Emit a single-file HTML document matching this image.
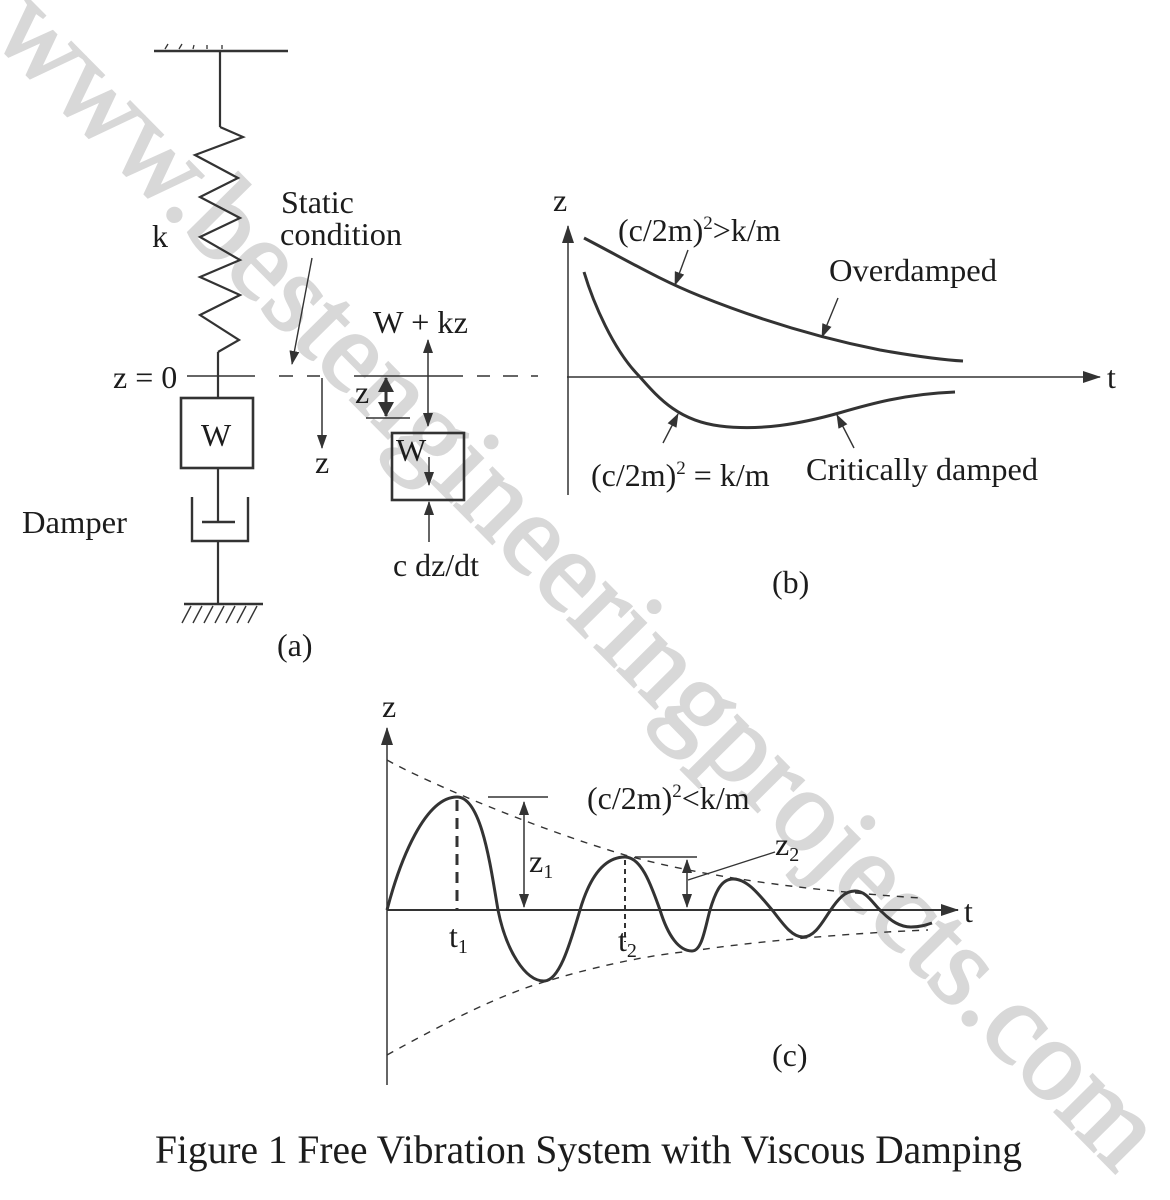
<!DOCTYPE html>
<html><head><meta charset="utf-8"><style>
html,body{margin:0;padding:0;background:#fff;}
svg{display:block;}
text{font-family:"Liberation Serif","Times New Roman",serif;fill:#1c1c1c;}
</style></head><body>
<svg width="1170" height="1200" viewBox="0 0 1170 1200" xmlns="http://www.w3.org/2000/svg">
<defs>
<marker id="a" markerUnits="userSpaceOnUse" markerWidth="14" markerHeight="10" refX="13" refY="5" orient="auto-start-reverse"><path d="M0,0 L14,5 L0,10 z" fill="#333"/></marker>
<marker id="ax" markerUnits="userSpaceOnUse" markerWidth="18" markerHeight="12" refX="17" refY="6" orient="auto-start-reverse"><path d="M0,0 L18,6 L0,12 z" fill="#333"/></marker>
<marker id="b" markerUnits="userSpaceOnUse" markerWidth="16" markerHeight="16" refX="14" refY="8" orient="auto-start-reverse"><path d="M0,0 L15,8 L0,16 z" fill="#333"/></marker>
</defs>

<!-- watermark -->
<text transform="translate(-11,35) rotate(45.3)" font-size="116" style="fill:#d8d8d8;stroke:#d8d8d8;stroke-width:2.5">www.bestengineeringprojects.com</text>

<g stroke="#333" fill="none" stroke-width="2.2">
<!-- (a) spring-mass-damper -->
<line x1="154" y1="51" x2="288" y2="51" stroke-width="2.5"/>
<g stroke-width="1.3"><line x1="165" y1="49" x2="168" y2="44"/><line x1="179" y1="49" x2="182" y2="44"/><line x1="193" y1="49" x2="194" y2="45"/><line x1="207" y1="49" x2="207" y2="45"/><line x1="222" y1="49" x2="222" y2="45"/></g>
<line x1="220" y1="51" x2="220" y2="127"/>
<polyline points="220,127 243,137 195,155 238,178 200,197 240,218 200,237 240,260 200,277 240,295 200,315 239,340 218,352"/>
<line x1="218" y1="352" x2="218" y2="398"/>
<rect x="181" y="398" width="72" height="70" stroke-width="2.6"/>
<line x1="218" y1="468" x2="218" y2="522"/>
<line x1="202" y1="522" x2="235" y2="522" stroke-width="2.6"/>
<path d="M192,497 L192,541 L248,541 L248,497" stroke-width="2.4"/>
<line x1="218" y1="541" x2="218" y2="604"/>
<line x1="184" y1="604" x2="263" y2="604" stroke-width="2.6"/>
<g stroke-width="1.4"><line x1="191" y1="606" x2="182" y2="623"/><line x1="202" y1="606" x2="193" y2="623"/><line x1="213" y1="606" x2="204" y2="623"/><line x1="224" y1="606" x2="215" y2="623"/><line x1="235" y1="606" x2="226" y2="623"/><line x1="246" y1="606" x2="237" y2="623"/><line x1="257" y1="606" x2="248" y2="623"/></g>

<!-- z=0 dashed line -->
<g stroke-width="1.5">
<line x1="187" y1="376" x2="255" y2="376"/>
<line x1="279" y1="376" x2="293" y2="376"/>
<line x1="307" y1="376" x2="320" y2="376"/>
<line x1="354" y1="376" x2="463" y2="376"/>
<line x1="477" y1="376" x2="490" y2="376"/>
<line x1="503" y1="376" x2="518" y2="376"/>
<line x1="531" y1="376" x2="538" y2="376"/>
</g>
<line x1="312" y1="258" x2="292" y2="364" stroke-width="1.4" marker-end="url(#a)"/>
<line x1="322" y1="378" x2="322" y2="448" stroke-width="1.5" marker-end="url(#a)"/>

<!-- FBD -->
<line x1="428" y1="340" x2="428" y2="426" stroke-width="1.5" marker-start="url(#a)" marker-end="url(#a)"/>
<line x1="386" y1="378" x2="386" y2="416" stroke-width="3" marker-start="url(#b)" marker-end="url(#b)"/>
<line x1="366" y1="418" x2="410" y2="418" stroke-width="1.5"/>
<rect x="392" y="433" width="72" height="67" stroke-width="2.6"/>
<line x1="429" y1="457" x2="429" y2="485" stroke-width="1.5" marker-end="url(#a)"/>
<line x1="429" y1="542" x2="429" y2="502" stroke-width="1.5" marker-end="url(#a)"/>

<!-- (b) -->
<line x1="568" y1="495" x2="568" y2="226" stroke-width="1.5" marker-end="url(#ax)"/>
<line x1="567" y1="377" x2="1100" y2="377" stroke-width="1.5" marker-end="url(#ax)"/>
<path d="M584,238 C630,262 660,280 700,296 C760,320 820,338 880,350 C920,357 945,360 963,361" stroke-width="3"/>
<path d="M584,272 C593,302 613,350 640,377 C660,400 680,421 720,426 C760,431 800,424 839,413 C870,404 905,394 955,392" stroke-width="3"/>
<line x1="688" y1="250" x2="675" y2="285" stroke-width="1.4" marker-end="url(#a)"/>
<line x1="838" y1="298" x2="822" y2="337" stroke-width="1.4" marker-end="url(#a)"/>
<line x1="663" y1="443" x2="678" y2="414" stroke-width="1.4" marker-end="url(#a)"/>
<line x1="854" y1="448" x2="837" y2="415" stroke-width="1.4" marker-end="url(#a)"/>

<!-- (c) -->
<line x1="387" y1="1085" x2="387" y2="728" stroke-width="1.5" marker-end="url(#ax)"/>
<line x1="387" y1="910" x2="958" y2="910" stroke-width="2" marker-end="url(#ax)"/>
<path d="M387,760 C430,784 540,830 625,855 C700,876 800,890 920,898" stroke-width="1.4" stroke-dasharray="7,7"/>
<path d="M387,1055 C450,1020 500,995 544,982 C600,965 650,955 692,951 C750,942 850,933 928,930" stroke-width="1.4" stroke-dasharray="7,7"/>
<path d="M387,910 C400,860 425,797 457,797 C482,797 491,870 498,910 C506,950 525,981 544,981 C560,981 571,940 580,910 C590,876 605,857 625,857 C642,857 652,888 660,910 C668,936 679,951 692,951 C702,951 705,928 710,910 C716,890 722,879 733,879 C748,879 760,896 773,911 C783,924 792,937 803,937 C815,937 823,921 830,911 C838,899 845,891 855,891 C867,891 873,904 882,912 C891,921 900,927 911,927 C920,927 926,925 932,923" stroke-width="3"/>
<line x1="457" y1="800" x2="457" y2="910" stroke-width="3" stroke-dasharray="11,7"/>
<line x1="625" y1="860" x2="625" y2="942" stroke-width="2" stroke-dasharray="5,4"/>
<line x1="488" y1="797" x2="548" y2="797" stroke-width="1.5"/>
<line x1="524" y1="802" x2="524" y2="907" stroke-width="1.5" marker-start="url(#a)" marker-end="url(#a)"/>
<line x1="635" y1="857" x2="697" y2="857" stroke-width="1.5"/>
<line x1="687" y1="860" x2="687" y2="907" stroke-width="1.5" marker-start="url(#a)" marker-end="url(#a)"/>
<line x1="688" y1="880" x2="775" y2="852" stroke-width="1.3"/>
</g>

<!-- labels (a) -->
<g font-size="32">
<text x="152" y="247">k</text>
<text x="281" y="213">Static</text>
<text x="280" y="245" textLength="122" lengthAdjust="spacingAndGlyphs">condition</text>
<text x="113" y="388">z = 0</text>
<text x="201" y="446">W</text>
<text x="22" y="533" textLength="105" lengthAdjust="spacingAndGlyphs">Damper</text>
<text x="315" y="473">z</text>
<text x="373" y="333" textLength="95" lengthAdjust="spacingAndGlyphs">W + kz</text>
<text x="355" y="403">z</text>
<text x="396" y="461">W</text>
<text x="393" y="576" textLength="86" lengthAdjust="spacingAndGlyphs">c dz/dt</text>
<text x="277" y="656">(a)</text>

<!-- labels (b) -->
<text x="553" y="211">z</text>
<text x="1107" y="388">t</text>
<text x="618" y="241">(c/2m)<tspan font-size="19" dy="-12">2</tspan><tspan dy="12">&gt;k/m</tspan></text>
<text x="829" y="281" textLength="168" lengthAdjust="spacingAndGlyphs">Overdamped</text>
<text x="591" y="486">(c/2m)<tspan font-size="19" dy="-12">2</tspan><tspan dy="12"> = k/m</tspan></text>
<text x="806" y="480" textLength="232" lengthAdjust="spacingAndGlyphs">Critically damped</text>
<text x="772" y="593">(b)</text>

<!-- labels (c) -->
<text x="382" y="717">z</text>
<text x="964" y="922">t</text>
<text x="587" y="809">(c/2m)<tspan font-size="19" dy="-12">2</tspan><tspan dy="12">&lt;k/m</tspan></text>
<text x="449" y="947">t<tspan font-size="20" dy="6">1</tspan></text>
<text x="618" y="951">t<tspan font-size="20" dy="6">2</tspan></text>
<text x="529" y="872">z<tspan font-size="20" dy="6">1</tspan></text>
<text x="775" y="855">z<tspan font-size="20" dy="6">2</tspan></text>
<text x="772" y="1066">(c)</text>
</g>

<text x="155" y="1163" font-size="40" textLength="867" lengthAdjust="spacingAndGlyphs">Figure 1 Free Vibration System with Viscous Damping</text>
</svg>
</body></html>
